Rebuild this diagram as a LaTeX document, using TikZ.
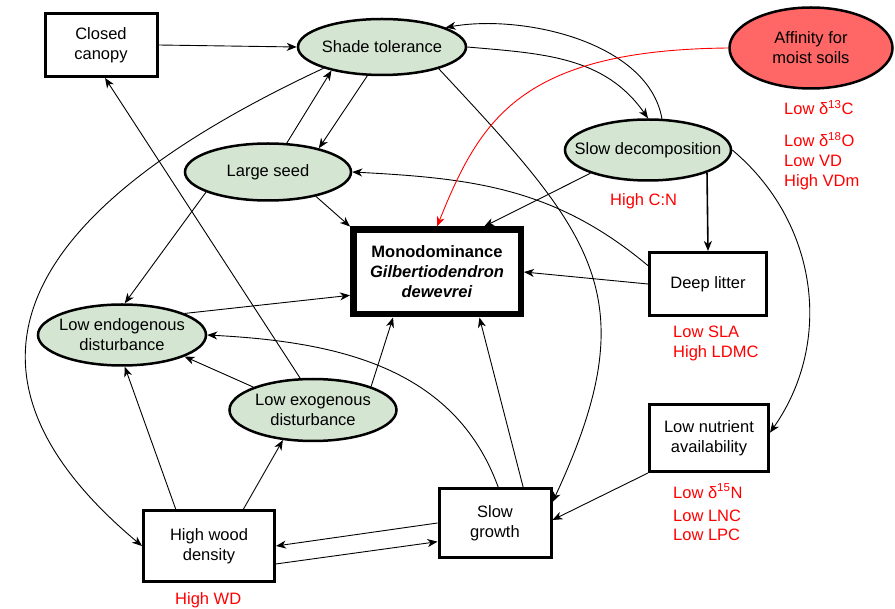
\documentclass[tikz,border=0pt]{standalone}
\usepackage{fontspec}
\setmainfont{Liberation Sans}
\usetikzlibrary{positioning,shapes.geometric,arrows.meta}
\definecolor{leafgreen}{RGB}{212,230,210}
\definecolor{moistred}{RGB}{255,102,102}
\definecolor{proxyred}{RGB}{255,0,0}
\def\txtsize{\fontsize{16.5}{20}\selectfont}

\begin{document}
\begin{tikzpicture}[x=1pt,y=1pt,
    every node/.style={font=\txtsize, align=center, inner sep=0pt},
    trait/.style={ellipse, draw, line width=2.5pt, fill=leafgreen,
      inner xsep=-20pt, inner ysep=-4pt},
    state/.style={rectangle, draw, line width=3pt, fill=white},
    proxy/.style={text=proxyred, align=left, anchor=base west},
    link/.style={-{Stealth[length=10pt,width=8pt,inset=3pt]}, line width=0.9pt},
  ]
  \useasboundingbox (0,0) rectangle (895,-609);

  % boxes
  \node[state, minimum width=112pt, minimum height=63pt] (canopy) at (101,-45) {Closed\\canopy};
  \node[state, line width=6.5pt, minimum width=167.5pt, minimum height=84.5pt,
    font=\txtsize\bfseries] (mono) at (437,-272)
    {Monodominance\\\textit{Gilbertiodendron}\\\textit{dewevrei}};
  \node[state, minimum width=117pt, minimum height=63pt] (litter) at (708,-284) {Deep litter};
  \node[state, minimum width=119pt, minimum height=67pt] (nutrient) at (709,-438) {Low nutrient\\availability};
  \node[state, minimum width=112pt, minimum height=69pt] (growth) at (495,-523) {Slow\\growth};
  \node[state, minimum width=131pt, minimum height=71pt] (wood) at (209,-546) {High wood\\density};

  % ellipses
  \node[trait, minimum width=168pt, minimum height=56pt] (shade) at (382,-47) {Shade tolerance};
  \node[trait, fill=moistred, minimum width=163pt, minimum height=81pt] (affinity) at (811,-48) {Affinity for\\moist soils};
  \node[trait, minimum width=166pt, minimum height=61pt] (decomp) at (648,-150) {Slow decomposition};
  \node[trait, minimum width=166pt, minimum height=57pt] (seed) at (268,-172) {Large seed};
  \node[trait, minimum width=168pt, minimum height=61pt] (endo) at (122,-335) {Low endogenous\\disturbance};
  \node[trait, minimum width=167pt, minimum height=62pt] (exo) at (313,-410) {Low exogenous\\disturbance};

  % red proxies (base = last line)
  \node[proxy] (cproxy) at (784,-187) {Low δ\textsuperscript{13}C\\[12pt]Low δ\textsuperscript{18}O\\Low VD\\High VDm};
  \node[proxy] (cnproxy) at (610,-206) {High C:N};
  \node[proxy] (litterproxy) at (673,-358) {Low SLA\\High LDMC};
  \node[proxy] (nproxy) at (673,-541) {Low δ\textsuperscript{15}N\\[3pt]Low LNC\\Low LPC};
  \node[proxy] (wdproxy) at (175,-604) {High WD};

  % straight links
  \draw[link] (canopy.east) -- (shade.west);
  \draw[link] (shade.243) -- (seed.25);
  \draw[link] (seed.57) -- (shade.205);
  \draw[link] (seed.-27) -- (mono.north west);
  \draw[link] (seed.198) -- (endo.85);
  \draw[link] (decomp.202) -- (mono.44);
  \draw[link, line width=1.6pt] (decomp.-21) -- (litter.north);
  \draw[link] (litter.west) -- (mono.east);
  \draw[link] (endo.19) -- (mono.195);
  \draw[link] (exo.159) -- (endo.-19);
  \draw[link] (exo.22) -- (mono.226);
  \draw[link] (exo.112) -- (canopy.-83);
  \draw[link] (wood.132) -- (endo.-85);
  \draw[link] (wood.47) -- (exo.225);
  \draw[link] (growth.west) -- (wood.east);
  \draw[link] (wood.-15) -- (growth.198);
  \draw[link] (growth.52) -- (mono.-47);
  \draw[link] (nutrient.south west) -- (growth.3);

  % curved links
  \draw[link] (shade.east) to[out=-5,in=125] (decomp.north);
  \draw[link] (decomp.66) to[out=100,in=10,looseness=.85] (shade.17);
  \draw[link] (shade.-21) to[out=-47,in=65,looseness=1.3] (growth.20);
  \draw[link] (litter.163) to[out=140,in=-3] (seed.east);
  \draw[link] (decomp.east) to[out=-40,in=55] (nutrient.5);
  \draw[link] (growth.85) to[out=110,in=-3] (endo.east);
  \draw[link] (shade.200) to[out=205,in=140,looseness=1.5] (wood.west);
  \draw[link, proxyred] (affinity.west) .. controls (520,-50) and (480,-120) .. (mono.north);

\end{tikzpicture}
\end{document}
